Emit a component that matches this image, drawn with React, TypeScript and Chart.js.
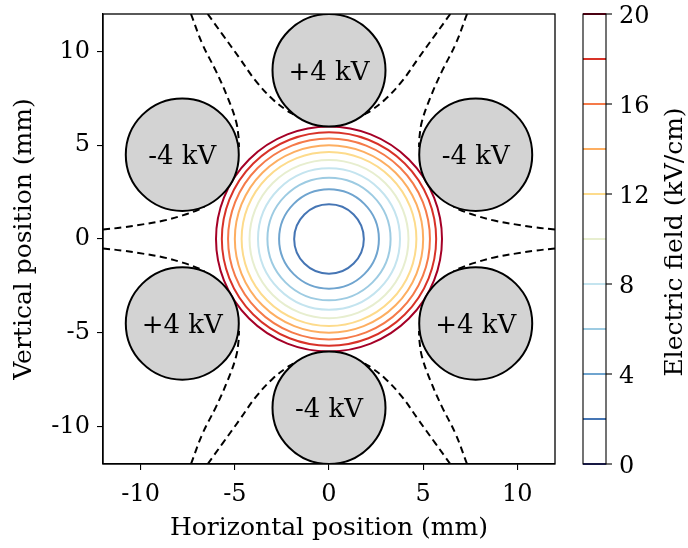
import React, { useEffect, useRef } from "react";
import { Chart, registerables } from "chart.js";

Chart.register(...registerables);

// ---- data ----
const xTicks = [-10, -5, 0, 5, 10];
const yTicks = [-10, -5, 0, 5, 10];
const colorbarTicks = [0, 4, 8, 12, 16, 20];

// contour levels (kV/cm) and their circle radii (mm)
const fieldLevels = [2, 4, 6, 8, 10, 12, 14, 16, 18, 20];
const contourRadii = [1.85, 2.65, 3.27, 3.77, 4.22, 4.64, 5.0, 5.36, 5.69, 6.0];
const contourColors = [
  "#4575b4", "#6fa4cf", "#9dcbe2", "#c4e4ef", "#e7eecf",
  "#fddb8c", "#fdae61", "#f57a49", "#d83228", "#a50026",
];
const colorbarLevels = [0, 2, 4, 6, 8, 10, 12, 14, 16, 18, 20];
const colorbarColors = [
  "#313695", "#4575b4", "#6fa4cf", "#9dcbe2", "#c4e4ef", "#e7eecf",
  "#fddb8c", "#fdae61", "#f57a49", "#d83228", "#a50026",
];

// electrodes (mm)
const electrodeX = [0, 7.79, 7.79, 0, -7.79, -7.79];
const electrodeY = [9, 4.5, -4.5, -9, -4.5, 4.5];
const electrodeLabels = ["+4 kV", "-4 kV", "+4 kV", "-4 kV", "+4 kV", "-4 kV"];
const electrodeRadius = 3;

// dashed boundary curves (mm)
const curveUL_A = [[-12, 0.5], [-10.96, 0.62], [-9.89, 0.78], [-8.83, 0.97], [-7.77, 1.26], [-6.88, 1.58], [-6.6, 1.75]];
const curveUL_B = [[-7.33, 12], [-6.71, 10.37], [-6.0, 8.95], [-5.38, 7.54], [-4.94, 6.29], [-4.8, 5.4], [-4.78, 4.9]];
const curveUL_C = [[-6.44, 12], [-5.65, 10.9], [-4.76, 9.66], [-3.88, 8.42], [-2.99, 7.45], [-2.19, 6.82], [-1.9, 6.65]];
const curveUR_A = [[12, 0.5], [10.96, 0.62], [9.89, 0.78], [8.83, 0.97], [7.77, 1.26], [6.88, 1.58], [6.6, 1.75]];
const curveUR_B = [[7.33, 12], [6.71, 10.37], [6.0, 8.95], [5.38, 7.54], [4.94, 6.29], [4.8, 5.4], [4.78, 4.9]];
const curveUR_C = [[6.44, 12], [5.65, 10.9], [4.76, 9.66], [3.88, 8.42], [2.99, 7.45], [2.19, 6.82], [1.9, 6.65]];
const curveLL_A = [[-12, -0.5], [-10.96, -0.62], [-9.89, -0.78], [-8.83, -0.97], [-7.77, -1.26], [-6.88, -1.58], [-6.6, -1.75]];
const curveLL_B = [[-7.33, -12], [-6.71, -10.37], [-6.0, -8.95], [-5.38, -7.54], [-4.94, -6.29], [-4.8, -5.4], [-4.78, -4.9]];
const curveLL_C = [[-6.44, -12], [-5.65, -10.9], [-4.76, -9.66], [-3.88, -8.42], [-2.99, -7.45], [-2.19, -6.82], [-1.9, -6.65]];
const curveLR_A = [[12, -0.5], [10.96, -0.62], [9.89, -0.78], [8.83, -0.97], [7.77, -1.26], [6.88, -1.58], [6.6, -1.75]];
const curveLR_B = [[7.33, -12], [6.71, -10.37], [6.0, -8.95], [5.38, -7.54], [4.94, -6.29], [4.8, -5.4], [4.78, -4.9]];
const curveLR_C = [[6.44, -12], [5.65, -10.9], [4.76, -9.66], [3.88, -8.42], [2.99, -7.45], [2.19, -6.82], [1.9, -6.65]];
const dashedCurves = [
  curveUL_A, curveUL_B, curveUL_C, curveUR_A, curveUR_B, curveUR_C,
  curveLL_A, curveLL_B, curveLL_C, curveLR_A, curveLR_B, curveLR_C,
];

const FONT_FAMILY = "'DejaVu Serif', serif";
const FONT_SIZE = 24;
const TITLE_SIZE = 25;
const LABEL_SIZE = 26;

const hexapolePlugin = {
  id: "hexapole",
  beforeDatasetsDraw(chart: any) {
    const { ctx, chartArea, scales } = chart;
    const xs = scales.x;
    const ys = scales.y;
    ctx.save();
    ctx.beginPath();
    ctx.rect(chartArea.left, chartArea.top, chartArea.width, chartArea.height);
    ctx.clip();
    const cx = xs.getPixelForValue(0);
    const cy = ys.getPixelForValue(0);
    contourRadii.forEach((r, i) => {
      const rx = Math.abs(xs.getPixelForValue(r) - cx);
      const ry = Math.abs(ys.getPixelForValue(r) - cy);
      ctx.beginPath();
      ctx.ellipse(cx, cy, rx, ry, 0, 0, Math.PI * 2);
      ctx.strokeStyle = contourColors[i];
      ctx.lineWidth = 2;
      ctx.stroke();
    });
    ctx.restore();
  },
  afterDatasetsDraw(chart: any) {
    const { ctx, chartArea, scales } = chart;
    const xs = scales.x;
    const ys = scales.y;
    ctx.save();
    ctx.beginPath();
    ctx.rect(chartArea.left, chartArea.top, chartArea.width, chartArea.height);
    ctx.clip();
    electrodeX.forEach((ex, i) => {
      const px = xs.getPixelForValue(ex);
      const py = ys.getPixelForValue(electrodeY[i]);
      const rx = Math.abs(xs.getPixelForValue(ex + electrodeRadius) - px);
      const ry = Math.abs(ys.getPixelForValue(electrodeY[i] + electrodeRadius) - py);
      ctx.beginPath();
      ctx.ellipse(px, py, rx, ry, 0, 0, Math.PI * 2);
      ctx.fillStyle = "#d3d3d3";
      ctx.fill();
      ctx.strokeStyle = "#000";
      ctx.lineWidth = 2;
      ctx.stroke();
      ctx.fillStyle = "#000";
      ctx.font = `${LABEL_SIZE}px ${FONT_FAMILY}`;
      ctx.textAlign = "center";
      ctx.textBaseline = "alphabetic";
      ctx.fillText(electrodeLabels[i], px, py + LABEL_SIZE * 0.36);
    });
    ctx.restore();
  },
  afterDraw(chart: any) {
    const { ctx, chartArea, scales } = chart;
    const cb = scales.cb;
    ctx.save();
    // plot frame
    ctx.strokeStyle = "#000";
    ctx.lineWidth = 1.3;
    ctx.strokeRect(chartArea.left, chartArea.top, chartArea.width, chartArea.height);

    // colorbar
    const left = chartArea.right + 28;
    const width = 23;
    const top = cb.getPixelForValue(20);
    const bottom = cb.getPixelForValue(0);
    ctx.fillStyle = "#fff";
    ctx.fillRect(left, top, width, bottom - top);
    colorbarLevels.forEach((lv, i) => {
      const y = cb.getPixelForValue(lv);
      ctx.beginPath();
      ctx.moveTo(left, y);
      ctx.lineTo(left + width, y);
      ctx.strokeStyle = colorbarColors[i];
      ctx.lineWidth = 2;
      ctx.stroke();
    });
    ctx.strokeStyle = "#000";
    ctx.lineWidth = 1.1;
    ctx.strokeRect(left, top, width, bottom - top);
    ctx.fillStyle = "#000";
    ctx.font = `${FONT_SIZE}px ${FONT_FAMILY}`;
    ctx.textAlign = "left";
    ctx.textBaseline = "alphabetic";
    colorbarTicks.forEach((t) => {
      const y = cb.getPixelForValue(t);
      ctx.beginPath();
      ctx.moveTo(left + width, y);
      ctx.lineTo(left + width + 6, y);
      ctx.lineWidth = 1.1;
      ctx.stroke();
      ctx.fillText(String(t), left + width + 13, y + FONT_SIZE * 0.36);
    });
    // colorbar title
    ctx.font = `${TITLE_SIZE}px ${FONT_FAMILY}`;
    ctx.translate(chartArea.right + 120, (top + bottom) / 2 + 3);
    ctx.rotate(-Math.PI / 2);
    ctx.textAlign = "center";
    ctx.textBaseline = "middle";
    ctx.fillText("Electric field (kV/cm)", 0, 0);
    ctx.restore();
  },
};

export default function App() {
  const canvasRef = useRef<HTMLCanvasElement | null>(null);

  useEffect(() => {
    const canvas = canvasRef.current;
    if (!canvas) return;
    const font = { family: FONT_FAMILY, size: FONT_SIZE };
    const titleFont = { family: FONT_FAMILY, size: TITLE_SIZE };
    const chart = new Chart(canvas, {
      type: "scatter",
      data: {
        datasets: dashedCurves.map((c) => ({
          data: c.map(([x, y]) => ({ x, y })),
          showLine: true,
          borderColor: "#000",
          borderWidth: 2,
          borderDash: [7, 4.5],
          pointRadius: 0,
          tension: 0.4,
          fill: false,
        })),
      },
      options: {
        animation: false,
        responsive: false,
        maintainAspectRatio: false,
        layout: { padding: { left: 0, top: 14, right: 133, bottom: 0 } },
        plugins: { legend: { display: false }, tooltip: { enabled: false } },
        scales: {
          x: {
            type: "linear",
            min: -12,
            max: 12,
            afterBuildTicks: (s: any) => {
              s.ticks = xTicks.map((v) => ({ value: v }));
            },
            afterFit: (s: any) => {
              s.height = 84;
              s.paddingLeft = 0;
              s.paddingRight = 0;
            },
            ticks: { font, color: "#000", padding: 10, callback: (v: any) => String(v) },
            grid: { drawOnChartArea: false, drawTicks: true, tickLength: 6, color: "#000", lineWidth: 1.1 },
            border: { color: "#000", width: 1.3 },
            title: { display: true, text: "Horizontal position (mm)", font: titleFont, color: "#000", padding: { top: 2, bottom: 5 } },
          },
          y: {
            type: "linear",
            min: -12,
            max: 12,
            afterBuildTicks: (s: any) => {
              s.ticks = yTicks.map((v) => ({ value: v }));
            },
            afterFit: (s: any) => {
              s.width = 103;
              s.paddingTop = 0;
              s.paddingBottom = 0;
            },
            ticks: { font, color: "#000", padding: 7, callback: (v: any) => String(v) },
            grid: { drawOnChartArea: false, drawTicks: true, tickLength: 6, color: "#000", lineWidth: 1.1 },
            border: { color: "#000", width: 1.3 },
            title: { display: true, text: "Vertical position (mm)", font: titleFont, color: "#000", padding: { top: 9, bottom: 0 } },
          },
          cb: {
            type: "linear",
            position: "right",
            min: 0,
            max: 20,
            display: false,
          },
        },
      },
      plugins: [hexapolePlugin],
    } as any);
    return () => chart.destroy();
  }, []);

  return (
    <div style={{ position: "fixed", left: 0, top: 0, width: 688, height: 548, background: "#fff" }}>
      <canvas ref={canvasRef} width={688} height={548} style={{ width: 688, height: 548, display: "block" }} />
    </div>
  );
}
